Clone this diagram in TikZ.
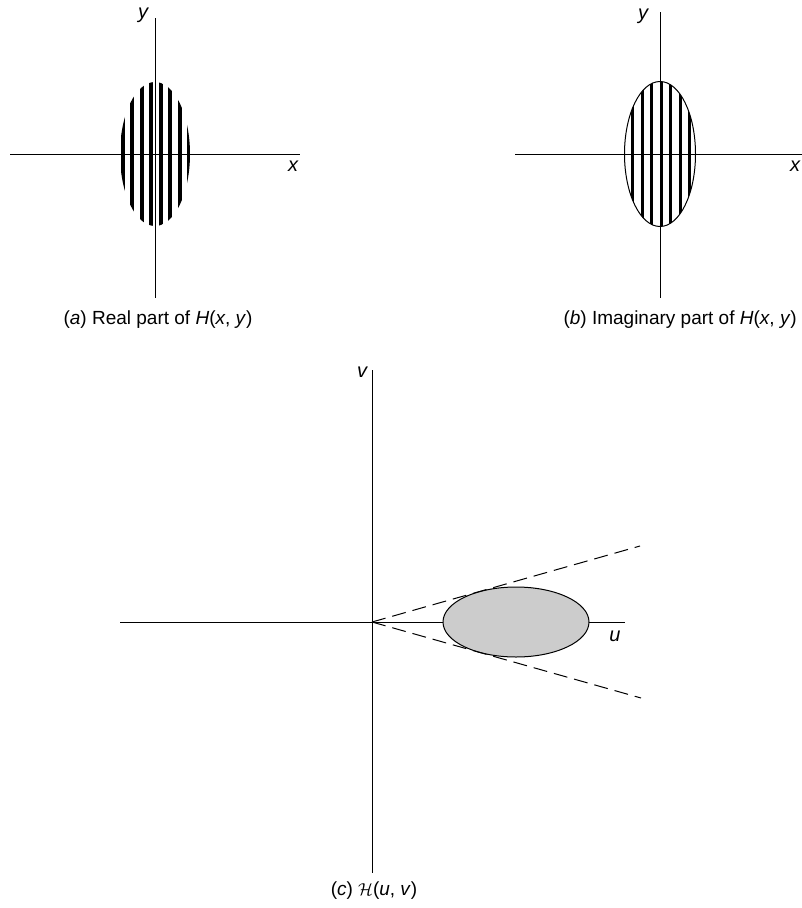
\documentclass[tikz,border=0pt]{standalone}
\usepackage{fontspec}
\setmainfont{Liberation Sans}
\usepackage{tikz}
\usetikzlibrary{positioning}

\begin{document}
\begin{tikzpicture}[
    x=1pt, y=-1pt,
    axis/.style={line width=1pt},
    lbl/.style={font=\fontsize{20}{22}\selectfont\itshape, inner sep=0pt},
    captxt/.style={font=\fontsize{19}{21}\selectfont, inner sep=0pt},
    stripe/.style={fill=black},
    cone/.style={line width=1pt, dash pattern=on 14pt off 7pt}
]
\useasboundingbox (0,0) rectangle (802,908);

% panel a
\coordinate (aO) at (155,154);
\coordinate (aW) at (10,154);
\coordinate (aE) at (300,154);
\coordinate (aN) at (155,18);
\coordinate (aS) at (155,298);
\draw[axis] (aW) -- (aE);
\draw[axis] (aN) -- (aS);
\begin{scope}
    \clip (aO) ellipse (35 and 72);
    \foreach \k in {-4,...,3}
        \fill[stripe] (156+9.5*\k+2.75,60) rectangle +(4,190);
\end{scope}
\node[lbl] (ay) at (143,15) {y};
\node[lbl] (ax) at (293,166) {x};
\node[captxt] (acap) at (158,320) {(\textit{a}) Real part of \textit{H}(\textit{x}, \textit{y})};

% panel b
\coordinate (bO) at (660,154);
\coordinate (bW) at (515,154);
\coordinate (bE) at (802,154);
\coordinate (bN) at (660,12);
\coordinate (bS) at (660,298);
\draw[axis] (bW) -- (bE);
\draw[axis] (bN) -- (bS);
\begin{scope}
    \clip (bO) ellipse (35.5 and 72.5);
    \foreach \k in {-4,...,4}
        \fill[stripe] (661+9.5*\k-1.5,60) rectangle +(3,190);
\end{scope}
\draw[line width=1pt] (bO) ellipse (35.5 and 72.5);
\node[lbl] (by) at (643,16) {y};
\node[lbl] (bx) at (795,166) {x};
\node[captxt, anchor=east] (bcap) at (797,320) {(\textit{b}) Imaginary part of \textit{H}(\textit{x}, \textit{y})};

% panel c
\coordinate (cO) at (372,622);
\coordinate (cW) at (120,622);
\coordinate (cE) at (625,622);
\coordinate (cN) at (372,370);
\coordinate (cS) at (372,873);
\coordinate (cUp) at (640,546);
\coordinate (cDn) at (641,698);
\draw[axis] (cW) -- (cE);
\draw[axis] (cN) -- (cS);
\draw[line width=1pt, fill=gray!40] (516,622) ellipse (73 and 35);
\draw[cone] (cO) -- (cUp);
\draw[cone] (cO) -- (cDn);
\node[lbl] (cv) at (362,372) {v};
\node[lbl] (cu) at (615,636) {u};
\node[captxt] (ccap) at (374,891) {(\textit{c}) $\mathcal{H}$(\textit{u}, \textit{v})};
\end{tikzpicture}
\end{document}
